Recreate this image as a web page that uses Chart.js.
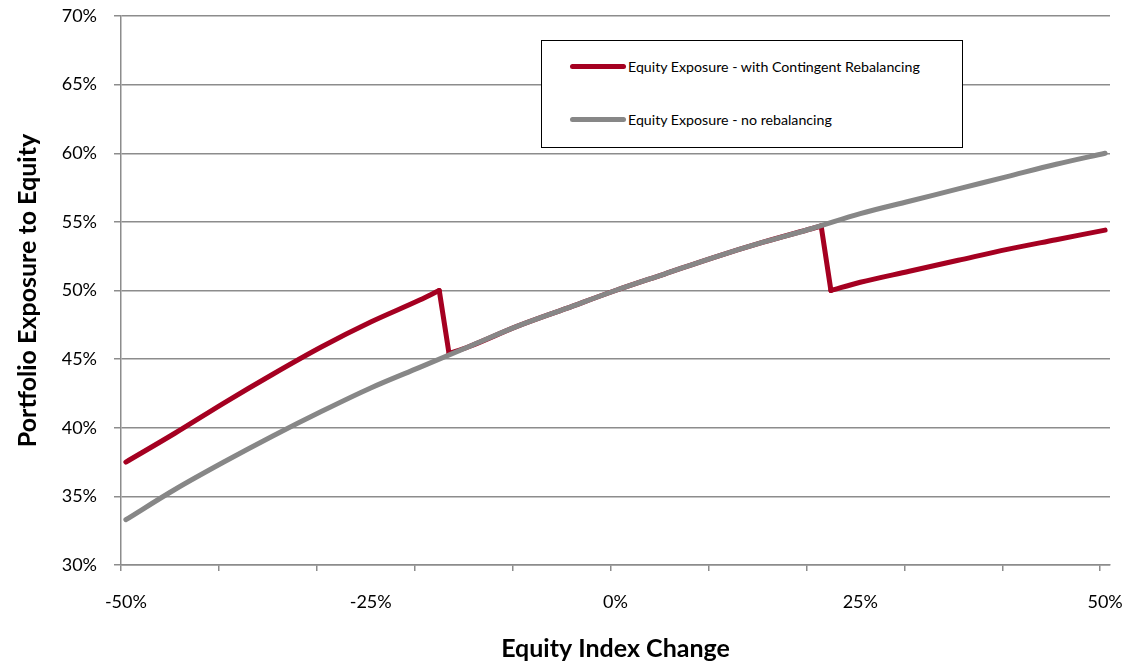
<!DOCTYPE html>
<html>
<head>
<meta charset="utf-8">
<script src="https://cdn.jsdelivr.net/npm/chart.js@4.4.1/dist/chart.umd.min.js"></script>
<style>
  html, body { margin: 0; padding: 0; background: #fff; }
  #wrap { position: relative; width: 1128px; height: 664px; }
  #legend {
    position: absolute; left: 541px; top: 40px; width: 420px; height: 106px;
    border: 1px solid #000; background: #fff;
    font-family: Lato, "Open Sans", sans-serif; font-size: 14.2px; color: #000;
  }
  #legend .item { position: absolute; left: 28px; display: flex; align-items: center; }
  #legend .swatch { width: 56px; height: 5px; border-radius: 3px; margin-right: 2px; }
</style>
</head>
<body>
<div id="wrap">
  <canvas id="exposureChart" width="1128" height="664"></canvas>
  <div id="legend"></div>
</div>
<script>
// equity index change (%) and exposure to equity (%)
const grayX = [-50, -45, -40, -35, -30, -25, -20, -15, -10, -5, 0, 5, 10, 15, 20, 25, 30, 35, 40, 45, 50];
const grayY = [33.3, 35.5, 37.5, 39.4, 41.2, 42.9, 44.4, 45.9, 47.4, 48.7, 50.0, 51.2, 52.4, 53.5, 54.5, 55.6, 56.5, 57.4, 58.3, 59.2, 60.0];

const redX = [-50, -45, -40, -35, -30, -25, -20, -18, -17, -15, -10, -5, 0, 5, 10, 15, 20, 21, 22, 25, 30, 35, 40, 45, 50];
const redY = [37.5, 39.6, 41.8, 43.9, 45.9, 47.7, 49.3, 50.0, 45.4, 45.9, 47.4, 48.7, 50.0, 51.2, 52.4, 53.5, 54.5, 54.7, 50.0, 50.6, 51.4, 52.2, 53.0, 53.7, 54.4];
// indexes in redX where the exposure is reset to 50%
const rebalanceAt = [7, 17];

const seriesNames = ['Equity Exposure - with Contingent Rebalancing', 'Equity Exposure - no rebalancing'];
const seriesColors = ['#a50021', '#878787'];

const xLabelTicks = [-50, -25, 0, 25, 50];
const xMarkTicks = [-50.5, -40.5, -30.5, -20.5, -10.5, -0.5, 9.5, 19.5, 29.5, 39.5, 49.5];

const toPoints = (xs, ys) => xs.map((x, i) => ({ x, y: ys[i] }));

// cut the red series at each reset so the smooth curve doesn't bend around the jumps
const redPoints = toPoints(redX, redY);
const cuts = [0];
rebalanceAt.forEach(i => cuts.push(i, i + 1));
cuts.push(redPoints.length - 1);
const redPieces = [];
for (let k = 0; k < cuts.length - 1; k++) {
    redPieces.push(redPoints.slice(cuts[k], cuts[k + 1] + 1));
}

const gridColor = '#8c8c8c';
const fontFamily = 'Lato, "Open Sans", sans-serif';

const ctx = document.getElementById('exposureChart').getContext('2d');
new Chart(ctx, {
    type: 'line',
    data: {
        datasets: [
            ...redPieces.map(piece => ({
                label: seriesNames[0],
                data: piece,
                borderColor: seriesColors[0],
                borderWidth: 5,
                order: 1
            })),
            {
                label: seriesNames[1],
                data: toPoints(grayX, grayY),
                borderColor: seriesColors[1],
                borderWidth: 5,
                order: 0
            }
        ]
    },
    options: {
        responsive: false,
        animation: false,
        layout: { padding: { top: 16, right: 18, left: 0, bottom: 0 } },
        elements: {
            point: { radius: 0 },
            line: { cubicInterpolationMode: 'monotone', borderCapStyle: 'round', borderJoinStyle: 'round' }
        },
        plugins: {
            legend: { display: false },
            tooltip: { enabled: false }
        },
        scales: {
            x: {
                type: 'linear',
                min: -50.5,
                max: 50.5,
                afterBuildTicks: (scale) => {
                    scale.ticks = [...xMarkTicks, ...xLabelTicks].sort((a, b) => a - b).map(v => ({ value: v }));
                },
                afterFit: (scale) => {
                    scale.height = 99;
                    scale.paddingLeft = 0;
                    scale.paddingRight = 0;
                },
                grid: {
                    drawOnChartArea: false,
                    drawTicks: true,
                    tickLength: 6,
                    lineWidth: 1.5,
                    tickColor: (c) => xMarkTicks.includes(c.tick && c.tick.value) ? gridColor : 'rgba(0,0,0,0)'
                },
                border: { color: gridColor, width: 1.5 },
                ticks: {
                    autoSkip: false,
                    maxRotation: 0,
                    padding: 20,
                    color: '#000',
                    font: { family: fontFamily, size: 18 },
                    callback: (v) => xLabelTicks.includes(v) ? v + '%' : ''
                },
                title: {
                    display: true,
                    text: 'Equity Index Change',
                    color: '#000',
                    padding: 0,
                    font: { family: fontFamily, size: 25, weight: 'bold' }
                }
            },
            y: {
                min: 30,
                max: 70,
                afterFit: (scale) => {
                    scale.width = 121;
                    scale.paddingTop = 0;
                    scale.paddingBottom = 0;
                },
                grid: {
                    color: gridColor,
                    lineWidth: 1.5,
                    tickLength: 7
                },
                border: { color: gridColor, width: 1.5 },
                ticks: {
                    stepSize: 5,
                    padding: 17,
                    color: '#000',
                    font: { family: fontFamily, size: 18 },
                    callback: (v) => v + '%'
                },
                title: {
                    display: true,
                    text: 'Portfolio Exposure to Equity',
                    color: '#000',
                    padding: { top: 13, bottom: 0 },
                    font: { family: fontFamily, size: 25, weight: 'bold' }
                }
            }
        }
    }
});

// legend box drawn inside the plot
const legendDiv = document.getElementById('legend');
legendDiv.innerHTML = seriesNames.map((name, i) => `
    <div class="item" style="top:${[17, 70][i]}px">
        <span class="swatch" style="background:${seriesColors[i]}"></span>
        <span>${name}</span>
    </div>
`).join('');
</script>
</body>
</html>
